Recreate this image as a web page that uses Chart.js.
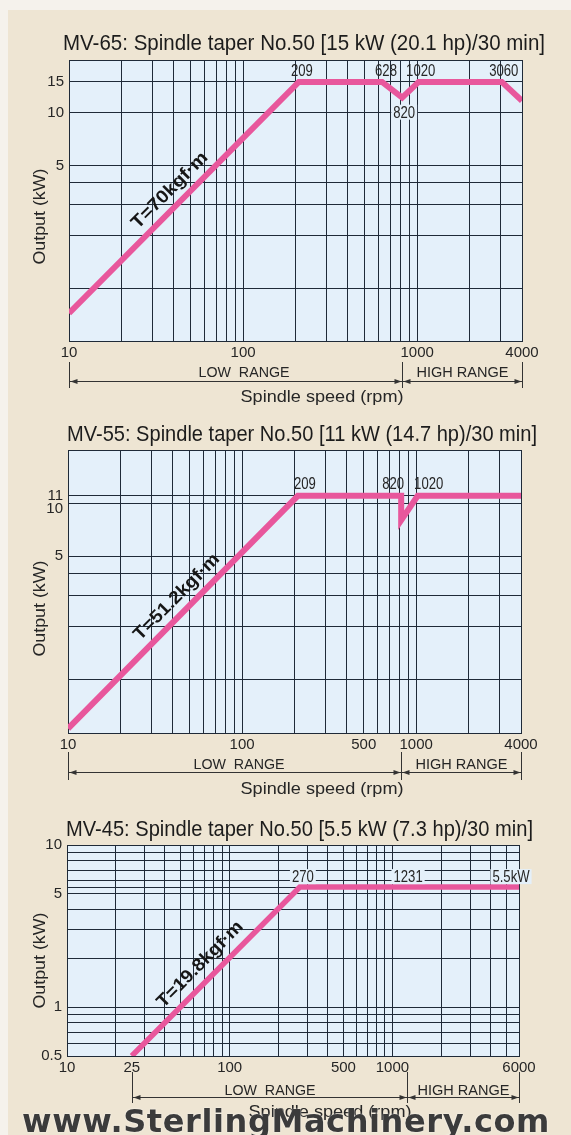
<!DOCTYPE html>
<html>
<head>
<meta charset="utf-8">
<script src="https://cdn.jsdelivr.net/npm/chart.js@4.4.1/dist/chart.umd.min.js"></script>
<style>
  html, body { margin: 0; padding: 0; width: 571px; height: 1135px; overflow: hidden; background: #eee5d3; }
  canvas { position: absolute; left: 0; }
  .edge-top { position: absolute; left: 0; top: 0; width: 571px; height: 10px; background: #f5f2ec; }
  .edge-left { position: absolute; left: 0; top: 0; width: 8px; height: 1135px; background: #f5f2ec; }
  #wm { position: absolute; left: 22px; top: 1105px; font: bold 32px "DejaVu Sans", sans-serif; line-height: 32px;
        color: #3b3b3b; white-space: nowrap; letter-spacing: 0.6px; text-shadow: 0 0 2px rgba(255,255,255,0.9); }
</style>
</head>
<body>
<div class="edge-top"></div>
<div class="edge-left"></div>
<canvas id="mv65" width="571" height="390" style="top:20px"></canvas>
<canvas id="mv55" width="571" height="395" style="top:410px"></canvas>
<canvas id="mv45" width="571" height="330" style="top:805px"></canvas>
<div id="wm">www.SterlingMachinery.com</div>
<script>
// ---- data (spindle speed rpm / output kW) ----
const mv65Speed  = [10, 209, 628, 820, 1020, 3060, 4000];
const mv65Output = [0.72, 15, 15, 12.2, 15, 15, 11.7];
const mv55Speed  = [10, 209, 820, 820, 1020, 4000];
const mv55Output = [0.53, 11, 11, 8, 11, 11];
const mv45Speed  = [25, 270, 6000];
const mv45Output = [0.5, 5.5, 5.5];

// grid lines and labelled ticks
const speedGrid4000 = [10, 20, 30, 40, 50, 60, 70, 80, 90, 100, 200, 300, 400, 500, 600, 700, 800, 900, 1000, 2000, 3000, 4000];
const speedGrid6000 = [10, 20, 25, 30, 40, 50, 60, 70, 80, 90, 100, 200, 300, 400, 500, 600, 700, 800, 900, 1000, 2000, 3000, 4000, 5000, 6000];
const mv65SpeedTicks = [10, 100, 1000, 4000];
const mv55SpeedTicks = [10, 100, 500, 1000, 4000];
const mv45SpeedTicks = [10, 25, 100, 500, 1000, 6000];
const mv65OutputGrid = [0.5, 1, 2, 3, 4, 5, 10, 15, 20];
const mv55OutputGrid = [0.5, 1, 2, 3, 4, 5, 10, 11, 20];
const mv45OutputGrid = [0.5, 0.6, 0.7, 0.8, 0.9, 1, 2, 3, 4, 5, 5.5, 6, 7, 8, 9, 10];
const mv65OutputTicks = [5, 10, 15];
const mv55OutputTicks = [5, 10, 11];
const mv45OutputTicks = [0.5, 1, 5, 10];

const GRID = '#1f2a38';
const INK = '#262626';
const PINK = '#e8579c';
const PLOT_BG = '#e4f0fa';
const SANS = '"Liberation Sans", Arial, sans-serif';

/**
 * Draw text squeezed/stretched to an exact width
 */
function fitText(ctx, text, x, y, width, align) {
    const w = ctx.measureText(text).width;
    ctx.save();
    ctx.translate(x, y);
    ctx.scale(width / w, 1);
    ctx.textAlign = align;
    ctx.fillText(text, 0, 0);
    ctx.restore();
}

function arrowHead(ctx, x, y, dir) {
    ctx.beginPath();
    ctx.moveTo(x, y);
    ctx.lineTo(x - dir * 7, y - 2.5);
    ctx.lineTo(x - dir * 7, y + 2.5);
    ctx.closePath();
    ctx.fill();
}

/**
 * Plot background, point notes, torque label, titles and range bracket
 */
const overlay = {
    id: 'overlay',
    beforeDraw(chart, args, o) {
        const { ctx, chartArea: a } = chart;
        ctx.save();
        ctx.fillStyle = PLOT_BG;
        ctx.fillRect(a.left, a.top, a.right - a.left, a.bottom - a.top);
        ctx.restore();
    },
    afterDatasetsDraw(chart, args, o) {
        const { ctx, scales: { x, y } } = chart;
        ctx.save();

        // speed notes along the curve
        ctx.font = `16px ${SANS}`;
        ctx.textBaseline = 'alphabetic';
        o.notes.forEach(n => {
            const px = x.getPixelForValue(n.speed) + n.dx;
            const py = y.getPixelForValue(n.output) + n.dy;
            const w = ctx.measureText(n.text).width * 0.82;
            if (n.bg) {
                ctx.fillStyle = PLOT_BG;
                ctx.fillRect(px - w / 2 - 2, py - 13, w + 4, 15);
            }
            ctx.fillStyle = INK;
            fitText(ctx, n.text, px, py, w, 'center');
        });

        // torque label along the constant-torque ramp
        const ds = chart.data.datasets[0].data;
        const p0 = { x: x.getPixelForValue(ds[0].x), y: y.getPixelForValue(ds[0].y) };
        const p1 = { x: x.getPixelForValue(ds[1].x), y: y.getPixelForValue(ds[1].y) };
        const ang = Math.atan2(p1.y - p0.y, p1.x - p0.x);
        const t = o.torque;
        const cx = p0.x + (p1.x - p0.x) * t.t + Math.sin(ang) * t.offset;
        const cy = p0.y + (p1.y - p0.y) * t.t - Math.cos(ang) * t.offset;
        ctx.translate(cx, cy);
        ctx.rotate(ang);
        ctx.font = `bold 18px ${SANS}`;
        ctx.textBaseline = 'middle';
        ctx.fillStyle = '#161616';
        fitText(ctx, t.text, 0, 0, t.width, 'center');
        ctx.restore();
    },
    afterDraw(chart, args, o) {
        const { ctx, chartArea: a, scales: { x } } = chart;
        ctx.save();
        ctx.textBaseline = 'alphabetic';

        // title
        ctx.font = `22px ${SANS}`;
        ctx.fillStyle = '#1c1c1c';
        fitText(ctx, o.title.text, o.title.x, a.top + o.title.dy, o.title.width, 'left');

        // y axis title
        ctx.fillStyle = INK;
        ctx.font = `17px ${SANS}`;
        ctx.save();
        ctx.translate(45, (a.top + a.bottom) / 2 + o.yTitleDy);
        ctx.rotate(-Math.PI / 2);
        fitText(ctx, 'Output (kW)', 0, 0, 96, 'center');
        ctx.restore();

        // range bracket
        const r = o.range;
        const x0 = Math.round(x.getPixelForValue(r.start)) + 0.5;
        const x1 = Math.round(x.getPixelForValue(r.split)) + 0.5;
        const x2 = Math.round(x.getPixelForValue(r.end)) + 0.5;
        const ly = Math.round(a.bottom + r.lineDy) + 0.5;
        ctx.strokeStyle = '#333';
        ctx.fillStyle = '#333';
        ctx.lineWidth = 1;
        ctx.beginPath();
        [x0, x1, x2].forEach(px => {
            ctx.moveTo(px, a.bottom + r.tickTop);
            ctx.lineTo(px, a.bottom + 47);
        });
        ctx.moveTo(x0, ly);
        ctx.lineTo(x2, ly);
        ctx.stroke();
        arrowHead(ctx, x0 + 1, ly, -1);
        arrowHead(ctx, x1 - 1, ly, 1);
        arrowHead(ctx, x1 + 1, ly, -1);
        arrowHead(ctx, x2 - 1, ly, 1);

        ctx.fillStyle = INK;
        ctx.font = `15px ${SANS}`;
        fitText(ctx, 'LOW  RANGE', (x0 + x1) / 2 + r.lowDx, a.bottom + r.textDy, 91, 'center');
        fitText(ctx, 'HIGH RANGE', (x1 + x2) / 2, a.bottom + r.textDy, 92, 'center');

        // x axis title
        ctx.font = `17px ${SANS}`;
        fitText(ctx, 'Spindle speed (rpm)', o.xTitleX, a.bottom + 61, 163, 'center');
        ctx.restore();
    }
};

/**
 * Build one output chart
 */
function makeChart(id, c) {
    const canvas = document.getElementById(id);
    return new Chart(canvas, {
        type: 'line',
        data: {
            datasets: [{
                data: c.speed.map((s, i) => ({ x: s, y: c.output[i] })),
                borderColor: PINK,
                borderWidth: c.lineWidth,
                borderJoinStyle: 'miter',
                borderCapStyle: 'butt',
                pointRadius: 0,
                tension: 0,
                fill: false
            }]
        },
        options: {
            responsive: false,
            animation: false,
            events: [],
            layout: {
                padding: { left: 0, top: c.box.top, right: 571 - c.box.right, bottom: 0 }
            },
            scales: {
                x: {
                    type: 'logarithmic',
                    position: 'bottom',
                    min: c.speedMin,
                    max: c.speedMax,
                    afterBuildTicks: s => { s.ticks = c.speedGrid.map(v => ({ value: v })); },
                    afterFit: s => { s.height = canvas.height - c.box.bottom; },
                    grid: {
                        color: ctx => (ctx.tick && c.speedHidden.includes(ctx.tick.value)) ? 'rgba(0,0,0,0)' : GRID,
                        lineWidth: 1,
                        drawTicks: false
                    },
                    border: { color: GRID, width: 1 },
                    ticks: {
                        autoSkip: false,
                        maxRotation: 0,
                        minRotation: 0,
                        padding: 3,
                        color: INK,
                        font: { family: SANS, size: 15 },
                        callback: v => c.speedTicks.includes(v) ? String(v) : ''
                    }
                },
                y: {
                    type: 'logarithmic',
                    min: c.outputMin,
                    max: c.outputMax,
                    afterBuildTicks: s => { s.ticks = c.outputGrid.map(v => ({ value: v })); },
                    afterFit: s => { s.width = c.box.left; },
                    grid: { color: GRID, lineWidth: 1, drawTicks: false },
                    border: { color: GRID, width: 1 },
                    ticks: {
                        autoSkip: false,
                        padding: 5,
                        color: INK,
                        font: { family: SANS, size: 15, lineHeight: 0.8 },
                        // a label pushed below its line is given as ['', text]
                        callback: v => c.outputTicks.includes(v)
                            ? (c.outputLow.includes(v) ? ['', String(v)] : String(v)) : ''
                    }
                }
            },
            plugins: {
                legend: { display: false },
                tooltip: { enabled: false },
                overlay: c.overlay
            }
        },
        plugins: [overlay]
    });
}

makeChart('mv65', {
    speed: mv65Speed, output: mv65Output, lineWidth: 6,
    speedMin: 10, speedMax: 4000, speedGrid: speedGrid4000, speedTicks: mv65SpeedTicks, speedHidden: [],
    outputMin: 0.5, outputMax: 20, outputGrid: mv65OutputGrid, outputTicks: mv65OutputTicks, outputLow: [],
    box: { left: 69, right: 522, top: 40, bottom: 321 },
    overlay: {
        title: { text: 'MV-65: Spindle taper No.50 [15 kW (20.1 hp)/30 min]', x: 63, dy: -10, width: 482 },
        yTitleDy: 16,
        xTitleX: 322,
        torque: { text: 'T=70kgf\u00b7m', t: 0.485, offset: 15, width: 100 },
        range: { start: 10, split: 820, end: 4000, tickTop: 21, lineDy: 40, textDy: 36, lowDx: 8 },
        notes: [
            { text: '209', speed: 209, output: 15, dx: 3, dy: -6 },
            { text: '628', speed: 628, output: 15, dx: 4, dy: -6 },
            { text: '1020', speed: 1020, output: 15, dx: 2, dy: -6 },
            { text: '3060', speed: 3060, output: 15, dx: 2, dy: -6 },
            { text: '820', speed: 820, output: 12.2, dx: 2, dy: 20, bg: true }
        ]
    }
});

makeChart('mv55', {
    speed: mv55Speed, output: mv55Output, lineWidth: 6,
    speedMin: 10, speedMax: 4000, speedGrid: speedGrid4000, speedTicks: mv55SpeedTicks, speedHidden: [],
    outputMin: 0.5, outputMax: 20, outputGrid: mv55OutputGrid, outputTicks: mv55OutputTicks, outputLow: [10],
    box: { left: 68, right: 521, top: 40, bottom: 323 },
    overlay: {
        title: { text: 'MV-55: Spindle taper No.50 [11 kW (14.7 hp)/30 min]', x: 67, dy: -9.5, width: 470 },
        yTitleDy: 17,
        xTitleX: 322,
        torque: { text: 'T=51.2kgf\u00b7m', t: 0.52, offset: 15, width: 114 },
        range: { start: 10, split: 820, end: 4000, tickTop: 19, lineDy: 39, textDy: 36, lowDx: 4 },
        notes: [
            { text: '209', speed: 209, output: 11, dx: 7, dy: -7 },
            { text: '820', speed: 820, output: 11, dx: -8, dy: -7 },
            { text: '1020', speed: 1020, output: 11, dx: 11, dy: -7 }
        ]
    }
});

makeChart('mv45', {
    speed: mv45Speed, output: mv45Output, lineWidth: 5.5,
    speedMin: 10, speedMax: 6000, speedGrid: speedGrid6000, speedTicks: mv45SpeedTicks, speedHidden: [25],
    outputMin: 0.5, outputMax: 10, outputGrid: mv45OutputGrid, outputTicks: mv45OutputTicks, outputLow: [],
    box: { left: 67, right: 519, top: 40, bottom: 251 },
    overlay: {
        title: { text: 'MV-45: Spindle taper No.50 [5.5 kW (7.3 hp)/30 min]', x: 66, dy: -9, width: 467 },
        yTitleDy: 10,
        xTitleX: 330,
        torque: { text: 'T=19.8kgf\u00b7m', t: 0.475, offset: 16, width: 114 },
        range: { start: 25, split: 1231, end: 6000, tickTop: 16, lineDy: 41, textDy: 39, lowDx: 0 },
        notes: [
            { text: '270', speed: 270, output: 5.5, dx: 3, dy: -5, bg: true },
            { text: '1231', speed: 1231, output: 5.5, dx: 1, dy: -5, bg: true },
            { text: '5.5kW', speed: 6000, output: 5.5, dx: -8, dy: -5, bg: true }
        ]
    }
});
</script>
</body>
</html>
